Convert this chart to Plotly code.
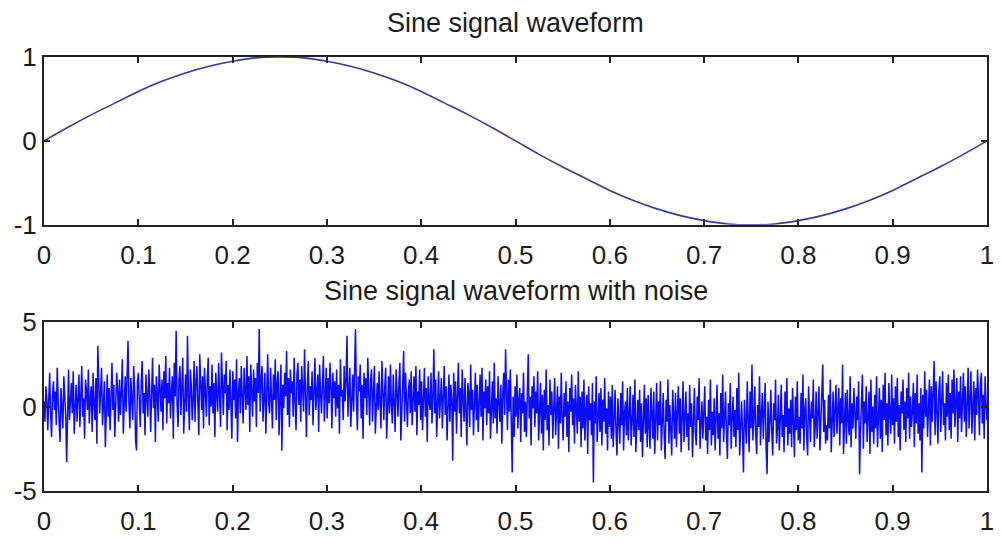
import numpy as np
import plotly.graph_objects as go
from plotly.subplots import make_subplots

# Clean sine, sampled every 0.025 s
SINE_T = [i * 0.025 for i in range(41)]
SINE = [0.00, 0.16, 0.31, 0.45, 0.59, 0.71, 0.81, 0.89, 0.95, 0.99,
        1.00, 0.99, 0.95, 0.89, 0.81, 0.71, 0.59, 0.45, 0.31, 0.16,
        0.00, -0.16, -0.31, -0.45, -0.59, -0.71, -0.81, -0.89, -0.95, -0.99,
        -1.00, -0.99, -0.95, -0.89, -0.81, -0.71, -0.59, -0.45, -0.31, -0.16,
        0.00]

# Noisy sine, 1000 samples over one second
NOISY = [
    0.3, -0.9, 1.2, 0.5, -1.4, 0.8, 2.0, -0.3, -1.8, 0.6,
    1.5, -0.2, 0.9, -1.1, 2.3, 0.4, -0.7, -2.1, 1.1, 0.2,
    -1.3, 1.8, 0.6, -0.5, -3.3, 1.0, 2.2, -0.8, 0.3, 1.4,
    -0.4, 2.1, -1.6, 0.7, 1.3, -0.9, 0.2, 1.9, -1.2, 0.8,
    2.4, -0.6, 0.5, -1.9, 1.6, 0.9, -0.2, 2.2, -1.0, 0.4,
    1.2, -1.5, 2.0, 0.1, -0.8, 1.7, -2.2, 3.6, 0.6, -0.4,
    0.9, 2.3, -1.1, 0.3, 1.5, -2.4, 0.7, 1.9, -0.6, 1.1,
    -1.4, 0.8, 2.6, -0.2, 1.3, -1.8, 0.5, 2.0, 1.0, -0.9,
    1.6, -0.5, 0.9, 2.8, -1.6, 0.4, 1.8, -0.3, 2.2, 3.9,
    0.2, -1.3, 1.7, 0.6, -0.8, 2.4, 1.1, -2.0, -2.6, 1.5,
    2.0, 0.3, -1.2, 1.4, 2.7, -0.4, 0.8, -1.7, 1.9, 0.6,
    -0.6, 2.2, 1.0, -1.5, 0.4, 2.9, -0.1, 1.3, -2.1, 1.8,
    0.7, -0.9, 2.5, 1.2, -0.3, 1.6, -1.4, 2.1, 0.5, 3.0,
    -1.0, 1.4, 0.2, 2.3, -0.7, 0.9, 1.8, -1.9, 2.6, 0.6,
    4.5, 0.1, -1.2, 1.6, 2.4, -0.5, 1.0, 2.9, -1.6, 0.8,
    1.9, -0.3, 4.2, 0.6, -1.4, 2.2, 1.3, -0.8, 0.4, 2.7,
    -0.9, 1.5, 2.4, 0.2, -1.7, 3.1, 0.9, -0.2, 1.8, -1.3,
    2.3, 0.5, -0.6, 1.7, 2.9, -1.1, 1.2, 0.0, 2.5, -0.4,
    1.4, -1.8, 2.0, 0.7, -0.3, 2.6, 1.1, -1.2, 3.2, 0.3,
    -0.5, 1.9, 0.8, 2.7, -1.4, 1.3, -0.2, 2.2, 0.6, -1.9,
    2.1, 0.4, 1.6, -0.7, 2.8, -2.1, 0.9, 1.7, -0.4, 2.4,
    0.6, -1.0, 2.3, 1.2, -0.2, 3.0, 0.1, 1.8, -1.5, 2.5,
    1.0, -0.6, 2.2, 0.3, 1.7, -1.2, 2.6, 0.8, 4.6, -0.3,
    1.6, 2.4, -0.9, 0.5, 2.0, -1.6, 1.2, 3.1, 0.2, -0.4,
    2.3, 0.7, -1.3, 1.9, 0.4, 2.8, -0.8, 1.4, 2.1, -1.7,
    0.9, 2.5, -2.6, 1.3, -0.1, 2.0, 0.6, 3.3, -0.5, 1.7,
    -1.2, 2.2, 0.8, 1.5, -0.6, 2.9, 0.3, -1.4, 1.9, 2.6,
    0.1, 1.6, -0.9, 2.4, 1.0, -0.3, 3.4, 0.7, -1.8, 1.3,
    2.7, -0.5, 1.2, 0.4, 2.1, -1.1, 1.8, 2.9, -0.2, 0.6,
    1.9, -1.5, 2.5, 0.8, -0.4, 1.4, 3.0, -0.9, 1.1, 2.3,
    -0.7, 1.7, 0.2, 2.6, 1.1, -1.3, 2.0, 0.5, 1.5, -0.6,
    2.2, -0.1, 1.3, -1.6, 2.8, 0.6, 1.0, -0.8, 2.4, 0.3,
    1.6, 4.2, -0.6, 1.1, 2.3, -1.2, 0.7, 1.9, -0.3, 2.6,
    4.6, 0.4, -1.4, 1.8, 0.9, 2.5, -0.7, 1.3, -1.9, 2.0,
    0.5, 1.7, -0.5, 2.9, 0.0, -1.1, 1.5, 2.2, -0.9, 1.0,
    2.4, -1.6, 0.8, 1.4, -0.2, 2.1, 0.3, -1.3, 2.7, 0.9,
    -0.8, 1.2, 2.3, -1.9, 0.6, 1.8, -0.4, 2.5, 0.1, -1.0,
    1.9, 0.4, -1.5, 2.2, 0.8, -0.6, 1.4, 2.6, -2.0, 0.7,
    1.3, 3.3, -0.9, 2.0, 0.2, -1.2, 0.9, 1.6, -0.4, 2.1,
    -1.1, 0.6, 1.8, -0.3, 2.4, -1.7, 0.9, 0.1, 2.2, -0.8,
    1.5, -1.4, 0.7, 2.3, -0.6, 1.1, -2.1, 1.8, 0.3, -0.2,
    2.0, -1.0, 0.5, 3.4, -0.4, 1.6, -1.8, 0.9, 2.1, -0.7,
    0.2, 1.7, -1.3, 0.8, 2.4, -0.5, 1.2, -2.0, 0.6, 1.9,
    -0.9, 1.3, 0.4, -3.2, 2.0, -0.3, 1.5, -1.6, 0.7, 2.6,
    -0.4, 1.1, -1.8, 2.2, 0.5, -0.9, 1.7, 0.0, -2.3, 1.4,
    0.8, -1.2, 2.5, -0.2, 1.0, -1.7, 0.4, 2.0, -0.8, 1.3,
    -1.5, 0.6, 1.9, -0.6, 2.3, -2.0, 0.9, -0.1, 1.6, -1.1,
    1.2, -0.4, 2.1, -1.9, 0.3, 1.5, -1.0, 2.6, -0.7, 0.5,
    -1.6, 1.8, 0.2, -0.9, 1.3, -2.2, 0.7, 2.0, -0.5, 3.4,
    0.9, -1.4, 1.6, -0.3, 2.2, -1.1, -3.9, 0.6, -1.8, 1.2,
    -0.6, 1.9, -1.3, 0.4, 1.1, -2.1, 0.8, -0.4, 2.0, -1.5,
    0.3, -1.8, 1.5, 3.1, -0.7, 0.6, -2.3, 1.2, -0.1, 1.8,
    -1.2, 0.9, -0.4, 2.1, -2.0, 0.2, 1.4, -1.6, 0.7, -2.6,
    1.0, -0.8, 2.2, -1.4, 0.1, -2.3, 1.6, -0.5, 0.9, -1.9,
    0.4, 1.7, -1.7, -0.2, 1.2, -2.5, 0.6, -1.0, 2.0, -0.7,
    -2.0, 0.8, -0.6, 1.5, -1.8, 0.3, -2.7, 1.1, -0.3, 1.9,
    -1.1, 0.5, -2.2, 1.3, -0.4, -1.6, 2.1, -0.9, 0.6, -2.4,
    0.9, -1.3, 1.6, -2.0, -0.2, 0.7, -2.8, 1.2, -0.8, 0.2,
    -1.7, 1.4, -4.5, 0.3, -1.0, 1.8, -2.1, -0.4, 0.8, -1.5,
    1.1, -2.3, 0.4, -0.9, 1.7, -1.6, -0.1, -2.6, 0.9, -1.2,
    0.6, -1.9, 1.3, -2.4, -0.3, 1.0, -1.5, -2.9, 0.5, -0.8,
    -2.2, 0.8, -1.1, 1.5, -2.6, -0.4, 0.3, -1.7, 1.1, -2.0,
    -0.5, 1.2, -2.3, -0.9, 0.7, -1.8, 1.6, -2.7, -0.2, 0.4,
    -1.4, 1.0, -2.1, 0.2, -3.0, -0.6, 1.3, -1.6, 0.5, -2.4,
    0.7, -1.2, -2.5, 1.1, -0.3, -1.9, 0.9, -2.8, -0.8, 1.4,
    -2.0, 0.3, -1.1, 1.5, -2.6, -0.5, 0.8, -1.7, -3.1, 0.4,
    -0.9, 1.6, -2.2, 0.1, -1.4, -2.9, 1.0, -0.7, -1.9, 0.8,
    -2.4, -0.3, 1.2, -1.6, 0.5, -2.7, -1.0, 1.5, -2.1, -0.6,
    0.9, -1.8, -0.4, -2.6, 1.3, -1.2, 0.2, -3.0, -0.9, 1.1,
    -1.5, -2.3, 0.6, -0.8, 1.7, -2.5, -1.1, 0.3, -1.9, -0.2,
    1.2, -2.0, -0.6, -2.8, 0.4, -1.4, 1.6, -2.3, -0.3, -1.7,
    0.5, -2.6, -1.0, 1.3, -1.9, -0.4, -2.9, 0.8, -1.3, 1.9,
    -2.1, -0.6, 0.9, -1.6, -3.1, 0.2, -1.1, 1.4, -2.5, -0.7,
    0.6, -1.8, -0.2, -2.4, 1.1, -1.4, 2.0, -2.9, -0.8, 0.3,
    -1.6, -3.9, 0.4, -1.0, -2.2, 1.5, -0.5, -2.7, 0.9, -1.3,
    2.5, -2.0, -0.7, 1.2, -1.7, -2.8, 0.1, -1.2, 1.8, -2.3,
    -0.4, 0.8, -1.9, -0.6, 1.4, -2.5, -4.0, 0.3, -2.1, -0.9,
    1.0, -1.5, -2.9, 0.2, -0.8, 1.6, -2.2, -1.3, 0.7, -2.6,
    -0.3, 1.3, -1.8, -0.5, -2.7, 0.9, -1.2, 1.7, -2.3, -0.1,
    -1.6, 0.4, -2.4, 1.1, -0.9, -3.0, 0.6, -1.4, 1.5, -2.0,
    -0.6, -2.2, 0.8, -1.3, 1.9, -2.6, -0.2, 0.5, -1.8, -2.9,
    1.2, -1.0, -2.1, 0.3, -0.7, 1.6, -2.4, -1.2, 0.9, -1.9,
    -0.4, 1.2, -2.6, -0.8, 1.0, 2.5, -1.5, 0.4, -2.2, -1.1,
    -2.0, 0.7, -1.3, 1.6, -2.7, -0.5, 0.9, -1.8, -0.2, 1.3,
    -1.6, -0.3, 1.1, -2.3, 0.5, -1.0, 2.5, -2.8, -0.6, 0.8,
    -2.2, 1.0, -0.9, -1.7, 1.8, -2.4, 0.2, -1.3, 1.1, -0.5,
    -1.9, 0.6, -0.8, 1.5, -4.0, -1.4, -0.2, 1.9, -2.5, 0.3,
    -1.0, 1.2, -2.1, -0.4, 0.9, -2.8, 1.6, -1.5, 0.0, -2.2,
    0.7, -1.3, 1.8, -2.4, -0.6, 1.1, -1.9, 0.4, -2.7, 1.3,
    -0.8, 2.0, -1.7, 0.2, -2.3, 1.4, -0.5, -1.6, 1.9, -1.1,
    0.5, -2.2, 1.2, -0.9, 1.7, -1.8, 0.1, -2.6, 0.9, -0.4,
    1.6, -1.4, 0.3, -2.1, 1.1, -0.7, 2.0, -1.9, 0.6, -1.2,
    -0.3, 1.4, -2.4, 0.8, -1.0, 1.9, -1.6, 0.2, -2.0, 1.1,
    -3.9, 0.7, -1.3, 2.1, -0.6, 1.0, -1.8, 0.4, 1.6, -2.3,
    1.2, -0.9, 0.5, 2.7, -1.7, 1.5, -0.3, -2.2, 0.9, 1.8,
    -1.5, 0.6, 2.1, -1.1, 0.2, -2.0, 1.4, -0.6, 1.9, -1.4,
    0.8, -1.9, 1.6, -0.4, 2.2, -1.2, 0.3, 1.7, -2.1, 0.9,
    -0.7, 1.8, -1.5, 0.5, 2.0, -0.9, 1.2, -1.8, 0.6, 2.3,
    -1.3, 0.9, 2.1, -1.6, 0.4, 1.5, -2.0, 1.1, -0.5, 2.2,
    0.6, -1.7, 1.3, 2.0, -1.0, 0.7, -1.9, 1.8, 0.2, -0.8,
]
NOISY_T = np.linspace(0, 1, len(NOISY))

X_TICKS = [0, 0.1, 0.2, 0.3, 0.4, 0.5, 0.6, 0.7, 0.8, 0.9, 1]
X_LABELS = ["0", "0.1", "0.2", "0.3", "0.4", "0.5", "0.6", "0.7", "0.8", "0.9", "1"]
TOP_Y_TICKS = [-1, 0, 1]
BOTTOM_Y_TICKS = [-5, 0, 5]
TITLES = ["Sine signal waveform", "Sine signal waveform with noise"]

FONT = "Liberation Sans, Arial, sans-serif"
INK = "#1c1c1c"

fig = make_subplots(rows=2, cols=1)

fig.add_trace(go.Scatter(x=SINE_T, y=SINE, mode="lines", line_shape="spline",
                         line=dict(color="#3a3a92", width=1.6), showlegend=False),
              row=1, col=1)
fig.add_trace(go.Scatter(x=NOISY_T, y=NOISY, mode="lines",
                         line=dict(color="#0c0cf5", width=1.5), showlegend=False),
              row=2, col=1)

axis_common = dict(showline=True, linecolor="#222222", linewidth=2, mirror="ticks",
                   ticks="inside", ticklen=6, tickwidth=1.5, tickcolor="#222222",
                   showgrid=False, zeroline=False,
                   tickfont=dict(family=FONT, size=26, color=INK))

for r in (1, 2):
    fig.update_xaxes(range=[0, 1], tickvals=X_TICKS, ticktext=X_LABELS,
                     ticklabelstandoff=6, **axis_common, row=r, col=1)

fig.update_yaxes(range=[-1, 1], tickvals=TOP_Y_TICKS, ticktext=[str(v) for v in TOP_Y_TICKS],
                 **axis_common, row=1, col=1)
fig.update_yaxes(range=[-5, 5], tickvals=BOTTOM_Y_TICKS, ticktext=[str(v) for v in BOTTOM_Y_TICKS],
                 **axis_common, row=2, col=1)

fig.update_layout(
    width=1002, height=544,
    margin=dict(l=44, r=8, t=57, b=37),
    paper_bgcolor="white", plot_bgcolor="white",
    xaxis=dict(domain=[0, 1]), xaxis2=dict(domain=[0, 1]),
    yaxis=dict(domain=[0.6133, 1]), yaxis2=dict(domain=[0, 0.3889]),
)

for ref, text, shift in (("y", TITLES[0], 34), ("y2", TITLES[1], 31)):
    fig.add_annotation(text=text, xref="x domain" if ref == "y" else "x2 domain",
                       yref=f"{ref} domain", x=0.5, y=1, xanchor="center", yanchor="middle",
                       yshift=shift, showarrow=False,
                       font=dict(family=FONT, size=27, color=INK))

fig.write_html("out.html")
